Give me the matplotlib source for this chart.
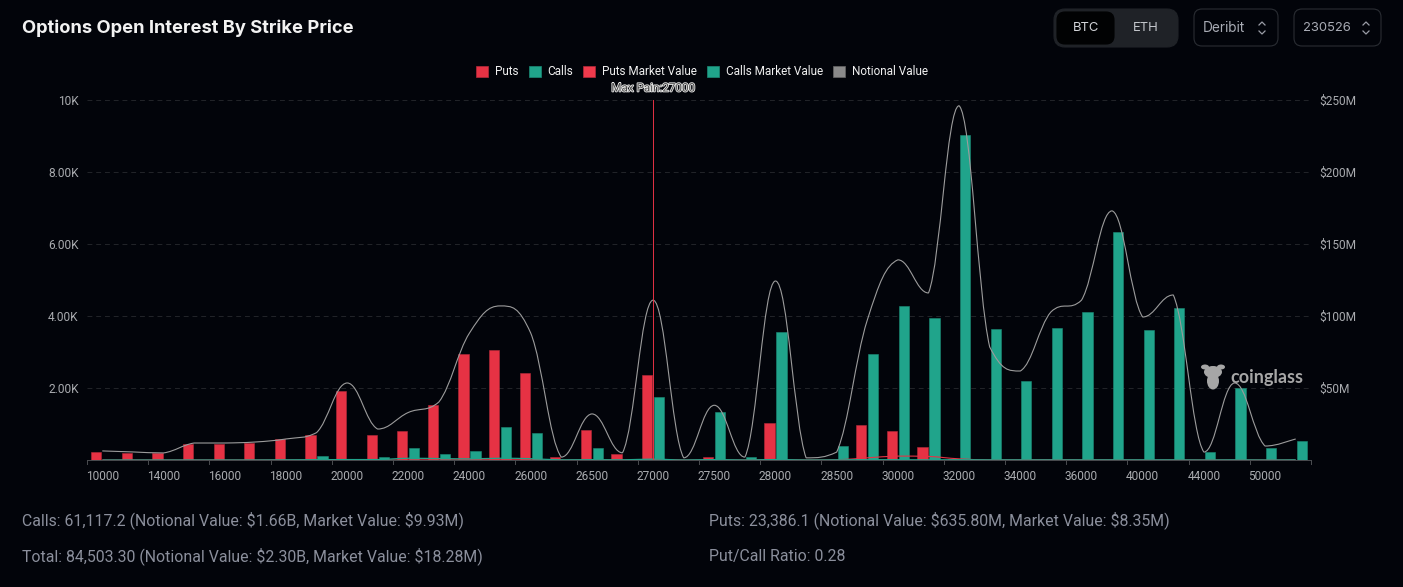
import numpy as np
import matplotlib
matplotlib.use('Agg')
import matplotlib.pyplot as plt
import matplotlib.patheffects as pe
from matplotlib.patches import FancyBboxPatch, Patch, Ellipse
from matplotlib.path import Path
from matplotlib.patches import PathPatch

# 40 strikes, only every second one gets a label
tick_labels = ['10000', '14000', '16000', '18000', '20000', '22000', '24000', '26000', '26500', '27000',
               '27500', '28000', '28500', '30000', '32000', '34000', '36000', '40000', '44000', '50000']

puts = [220, 200, 200, 450, 450, 470, 570, 690, 1920, 700, 800, 1520, 2950, 3050, 2420, 80, 830, 170, 2350, 10,
        80, 5, 1020, 5, 10, 960, 800, 350, 20, 5, 5, 5, 5, 5, 5, 5, 0, 0, 0, 0]
calls = [0, 0, 0, 0, 0, 0, 5, 100, 30, 80, 320, 170, 250, 920, 760, 5, 340, 5, 1750, 10,
         1340, 70, 3560, 5, 380, 2950, 4280, 3950, 9020, 3640, 2200, 3670, 4100, 6340, 3610, 4220, 210, 2000, 340, 530]

# all in $M, right axis
notional = [6.3, 5.6, 4.9, 11.8, 11.8, 12.5, 14.6, 19.0, 53.5, 21.5, 33.0, 40.3, 88.2, 107.0, 88.2, 2.0, 32.0, 5.0, 111.0, 1.5,
            38.0, 2.0, 124.3, 1.5, 5.5, 97.2, 139.0, 116.0, 246.0, 78.5, 61.8, 102.8, 111.0, 173.0, 99.3, 114.6, 5.5, 53.5, 9.7, 14.6]
puts_mv = [0, 0, 0, 0, 0, 0, 0, 0, 0.1, 0, 0.1, 0.1, 0.2, 0.2, 0.1, 0, 0.1, 0, 0.4, 0,
           0, 0, 0.2, 0, 0.1, 1.5, 2.7, 2.5, 0.8, 0.1, 0.1, 0.2, 0.1, 0.1, 0, 0, 0, 0, 0, 0]
calls_mv = [0, 0, 0, 0, 0, 0, 0.1, 0.2, 0.3, 0.3, 1.2, 1.0, 0.8, 1.2, 0.9, 0.1, 0.2, 0.1, 0.6, 0,
            0.3, 0, 0.3, 0, 0.1, 0.2, 0.2, 0.1, 0.2, 0.1, 0.1, 0.1, 0.1, 0.1, 0.1, 0.1, 0, 0.1, 0, 0.1]

BG = '#02040a'
RED = '#e63244'
TEAL = '#20a48b'
GRID = '#232529'
LABEL = '#a9abaf'
FOOT = '#8b8f9c'
W, H = 1403, 587


def smooth_path(x, y, smooth=0.2):
    # same idea as echarts smooth lines: tangents clamped to the neighbouring points
    verts = [(x[0], y[0])]
    codes = [Path.MOVETO]
    n = len(x)
    for i in range(n - 1):
        a, b = max(i - 1, 0), min(i + 2, n - 1)
        c1 = y[i] + smooth * (y[i + 1] - y[a])
        c2 = y[i + 1] - smooth * (y[b] - y[i])
        lo, hi = min(y[i], y[i + 1]), max(y[i], y[i + 1])
        c1 = min(max(c1, lo), hi)
        c2 = min(max(c2, lo), hi)
        verts += [(x[i] + smooth * (x[i + 1] - x[a]), c1),
                  (x[i + 1] - smooth * (x[b] - x[i]), c2),
                  (x[i + 1], y[i + 1])]
        codes += [Path.CURVE4] * 3
    return Path(verts, codes)


fig = plt.figure(figsize=(W / 100, H / 100), dpi=100, facecolor=BG)
ax = fig.add_axes([87 / W, 1 - 460 / H, 1224 / W, 360 / H], facecolor='none')
ax2 = ax.twinx()
ax2.set_facecolor('none')

x = np.arange(len(puts))
ax.bar(x - 0.195, puts, width=0.33, color=RED, edgecolor='#b52a3a', linewidth=0.4, zorder=3)
ax.bar(x + 0.195, calls, width=0.33, color=TEAL, edgecolor='#1b8a76', linewidth=0.4, zorder=3)

ax.set_xlim(-0.5, len(puts) - 0.5)
ax.set_ylim(0, 10000)
ax2.set_ylim(0, 250)

ax.set_yticks([0, 2000, 4000, 6000, 8000, 10000])
ax.set_yticklabels(['', '2.00K', '4.00K', '6.00K', '8.00K', '10K'], family='Roboto', fontsize=8.6, color=LABEL, va='center_baseline')
ax2.set_yticks([0, 50, 100, 150, 200, 250])
ax2.set_yticklabels(['', r'\$50M', r'\$100M', r'\$150M', r'\$200M', r'\$250M'], family='Roboto', fontsize=8.6, color=LABEL, va='center_baseline')
ax.tick_params(axis='y', length=0, pad=6)
ax2.tick_params(axis='y', length=0, pad=6)

ax.set_xticks(np.arange(0, len(puts), 2))
ax.set_xticklabels(tick_labels, family='Roboto', fontsize=8.6, color=LABEL, ha='center')
ax.tick_params(axis='x', length=0, pad=7)
# tick marks sit on the band edges, labels in the middle of the band
for e in np.arange(-0.5, len(puts), 2):
    ax.plot([e, e], [0, -110], color='#4a4c50', lw=0.7, clip_on=False, zorder=1)
ax.plot([len(puts) - 0.5] * 2, [0, -110], color='#4a4c50', lw=0.7, clip_on=False, zorder=1)

ax.grid(axis='y', color=GRID, lw=0.7, ls=(0, (5, 4)), zorder=0)
ax.set_axisbelow(True)
for a in (ax, ax2):
    for s in a.spines.values():
        s.set_visible(False)
ax.spines['bottom'].set_visible(True)
ax.spines['bottom'].set_color('#4a4c50')
ax.spines['bottom'].set_linewidth(0.7)

ax2.add_patch(PathPatch(smooth_path(x, np.array(puts_mv, float)), fc='none', ec=RED, lw=0.8, zorder=4))
ax2.add_patch(PathPatch(smooth_path(x, np.array(calls_mv, float)), fc='none', ec=TEAL, lw=0.9, zorder=4))
ax2.add_patch(PathPatch(smooth_path(x, np.array(notional, float)), fc='none', ec='#9c9c9c', lw=0.8, zorder=5))

# max pain marker
ax2.plot([18, 18], [0, 250], color=RED, lw=0.7, zorder=6)

handles = [Patch(fc=RED, ec='#b52a3a', lw=0.5), Patch(fc=TEAL, ec='#1b8a76', lw=0.5), Patch(fc='#f03a4c', ec='#b52a3a', lw=0.5),
           Patch(fc=TEAL, ec='#1b8a76', lw=0.5), Patch(fc='#8a8a8a', ec='#666666', lw=0.5)]
fig.legend(handles, ['Puts', 'Calls', 'Puts Market Value', 'Calls Market Value', 'Notional Value'],
           loc='center', bbox_to_anchor=(702 / W, 1 - 72 / H), ncol=5, frameon=False,
           prop={'family': 'Roboto', 'size': 8.5}, labelcolor='#f0f0f0', handlelength=1.0, handleheight=1.0,
           handletextpad=0.55, columnspacing=0.9)

# header, footer and controls in pixel coordinates
ui = fig.add_axes([0, 0, 1, 1], facecolor='none', zorder=5)
ui.set_xlim(0, W)
ui.set_ylim(H, 0)
ui.axis('off')

ui.text(22, 28, 'Options Open Interest By Strike Price', family='Inter', weight='bold', fontsize=13.2,
        color='#f2f2f2', va='center')

ui.text(653, 88, 'Max Pain:27000', family='Roboto', fontsize=8.4, color='#4a4a4a', ha='center', va='center',
        path_effects=[pe.withStroke(linewidth=1.2, foreground='#e8e8e8')])


def box(x0, y0, w, h, fc, ec, r=8):
    ui.add_patch(FancyBboxPatch((x0 + r, y0 + r), w - 2 * r, h - 2 * r, boxstyle=f'round,pad={r},rounding_size={r}',
                                fc=fc, ec=ec, lw=0.8))


def chevrons(cx, cy):
    for s in (-1, 1):
        ui.plot([cx - 3, cx, cx + 3], [cy + s * 3, cy + s * 6, cy + s * 3], color='#9a9da6', lw=0.9)


box(1054, 9, 124, 38, '#1f2227', '#1f2227', r=11)
box(1057, 12, 57, 32, '#010203', '#010203', r=8)
ui.text(1086, 28, 'BTC', family='Inter', fontsize=9.4, color='#d2d4d8', ha='center', va='center')
ui.text(1146, 28, 'ETH', family='Inter', fontsize=9.4, color='#c2c5ca', ha='center', va='center')
box(1194, 9, 84, 37, 'none', '#2a2d33', r=8)
ui.text(1203, 28, 'Deribit', family='Inter', fontsize=9.8, color='#a9acb5', va='center')
chevrons(1262, 28)
box(1294, 9, 87, 37, 'none', '#2a2d33', r=8)
ui.text(1303, 28, '230526', family='Inter', fontsize=9.4, color='#a9acb5', va='center')
chevrons(1366, 28)

# watermark
wm = '#a6a6a6'
ui.add_patch(Ellipse((1213, 372), 18, 12, fc=wm, ec='none'))
ui.add_patch(Ellipse((1213, 381), 12, 17, fc=wm, ec='none'))
ui.add_patch(Ellipse((1205, 367), 8, 5, fc=wm, ec='none'))
ui.add_patch(Ellipse((1221, 367), 8, 5, fc=wm, ec='none'))
ui.text(1230, 377, 'coinglass', family='Lato', weight='bold', fontsize=13, color=wm, va='center')

foot_font = dict(family='Roboto', fontsize=11.45, color=FOOT, va='center')
ui.text(22, 520, r'Calls: 61,117.2 (Notional Value: \$1.66B, Market Value: \$9.93M)', **foot_font)
ui.text(22, 556, r'Total: 84,503.30 (Notional Value: \$2.30B, Market Value: \$18.28M)', **foot_font)
ui.text(709, 520, r'Puts: 23,386.1 (Notional Value: \$635.80M, Market Value: \$8.35M)', **foot_font)
ui.text(709, 556, 'Put/Call Ratio: 0.28', **foot_font)

fig.savefig('out.png', dpi=100, facecolor=BG)
